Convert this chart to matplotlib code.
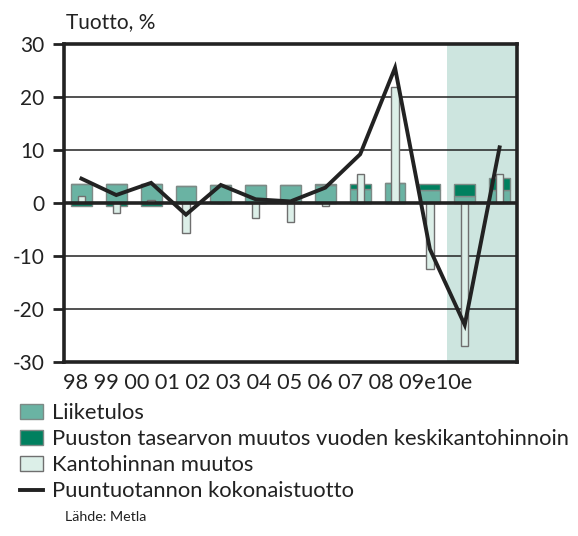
import matplotlib
matplotlib.use('Agg')
import matplotlib.pyplot as plt
from matplotlib.patches import Patch
from matplotlib.lines import Line2D
import numpy as np

########################
# Data
########################

vuodet = ['98', '99', '00', '01', '02', '03', '04', '05', '06', '07', '08', '09e', '10e']
# Liiketulos
liiketulos = [3.5, 3.5, 3.5, 3.2, 3.4, 3.4, 3.4, 3.4, 2.7, 3.7, 2.5, 1.4, 2.4]
# Puuston tasearvon muutos vuoden keskikantohinnoin
tasearvo = [-0.5, -0.5, -0.6, 0.0, 0.0, 0.0, 0.0, 0.1, 0.8, 0.1, 1.0, 2.1, 2.4]
# Kantohinnan muutos
kantohinta = [1.4, -1.9, 0.6, -5.7, 0.0, -2.8, -3.5, -0.5, 5.5, 21.9, -12.4, -26.9, 5.4]
# Puuntuotannon kokonaistuotto
kokonaistuotto = [4.6, 1.5, 3.8, -2.2, 3.4, 0.7, 0.3, 2.9, 9.2, 25.5, -8.7, -23.0, 10.5]

ennuste_alku = 11  # 09e ->

########################
# Styles
########################

plt.rcParams['font.family'] = ['Lato', 'DejaVu Sans']
plt.rcParams['axes.unicode_minus'] = False
c_liike = '#6ab3a3'
c_tase = '#00805f'
c_kanto = '#dcefe8'
c_tausta = '#cde5df'
c_reuna = '#7d8a86'

fig = plt.figure(figsize=(5.78, 5.36), dpi=100)
ax = fig.add_axes([64 / 578, 1 - 362 / 536, 453 / 578, 318 / 536])

x = np.arange(len(vuodet))
liiketulos = np.array(liiketulos)
tasearvo = np.array(tasearvo)

# ennustevuosien tausta
ax.axvspan(ennuste_alku - 0.5, len(vuodet) - 0.5, color=c_tausta, zorder=0, lw=0)

# apuviivat
for g in [-20, -10, 10, 20]:
    ax.axhline(g, color='#222222', lw=1.1, zorder=1)

# leveat pylvaat
ax.bar(x, liiketulos, width=0.6, color=c_liike, edgecolor=c_reuna, lw=1, zorder=2)
pos = np.where(tasearvo > 0, tasearvo, 0)
neg = np.where(tasearvo < 0, tasearvo, 0)
ax.bar(x, pos, width=0.6, bottom=liiketulos, color=c_tase, edgecolor=c_reuna, lw=1, zorder=2)
ax.bar(x, neg, width=0.6, color=c_tase, edgecolor=c_reuna, lw=1, zorder=2)

# kapeat pylvaat
ax.bar(x, kantohinta, width=0.21, color=c_kanto, edgecolor='#6f6f6f', lw=1, zorder=3)

# nollaviiva
ax.axhline(0, color='#222222', lw=2.6, zorder=4)

# kokonaistuotto
ax.plot(x, kokonaistuotto, color='#222222', lw=2.8, zorder=5, solid_joinstyle='miter')

ax.set_xlim(-0.5, len(vuodet) - 0.5)
ax.set_ylim(-30, 30)
ax.set_yticks(range(-30, 31, 10))
ax.tick_params(axis='y', direction='out', length=8, width=2, labelsize=15, pad=6, colors='#222222')
ax.set_xticks([])
for s in ax.spines.values():
    s.set_linewidth(2.6)
    s.set_color('#222222')
    s.set_zorder(6)

# tekstit
fig.text(66 / 578, 1 - 22 / 536, 'Tuotto, %', fontsize=15, va='center', ha='left', color='#222222')
fig.text(63 / 578, 1 - 383 / 536, ' '.join(vuodet[:-1]) + vuodet[-1], fontsize=15.6,
         va='center', ha='left', color='#222222')

handles = [Patch(facecolor=c_liike, edgecolor=c_reuna),
           Patch(facecolor=c_tase, edgecolor=c_reuna),
           Patch(facecolor=c_kanto, edgecolor='#6f6f6f'),
           Line2D([], [], color='#222222', lw=2.8)]
labels = ['Liiketulos', 'Puuston tasearvon muutos vuoden keskikantohinnoin',
          'Kantohinnan muutos', 'Puuntuotannon kokonaistuotto']
leg = fig.legend(handles, labels, loc='upper left', bbox_to_anchor=(20 / 578, 1 - 403 / 536),
                 frameon=False, fontsize=15.8, handlelength=1.05, handleheight=0.7,
                 handletextpad=0.42, labelspacing=0.28, borderpad=0, borderaxespad=0)
for t in leg.get_texts():
    t.set_color('#222222')

fig.text(65 / 578, 1 - 517 / 536, 'Lähde: Metla', fontsize=10.3, va='center', ha='left', color='#222222')

fig.savefig('out.png', dpi=100)
